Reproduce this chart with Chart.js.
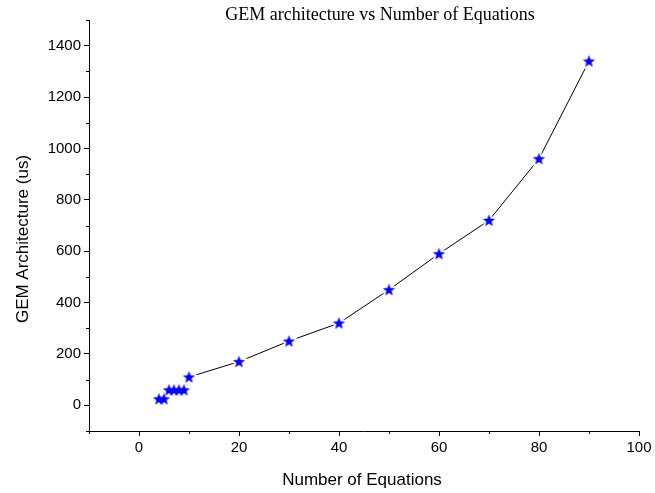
<!DOCTYPE html>
<html>
<head>
<meta charset="utf-8">
<script src="https://cdn.jsdelivr.net/npm/chart.js@4.4.1/dist/chart.umd.min.js"></script>
<style>
  html, body { margin: 0; padding: 0; background: #fff; }
  #wrap { width: 655px; height: 493px; }
</style>
</head>
<body>
<div id="wrap"><canvas id="gem"></canvas></div>
<script>
// equations count vs GEM time (us)
const equations = [4, 5, 6, 7, 8, 9, 10, 20, 30, 40, 50, 60, 70, 80, 90];
const gemTime = [25, 25, 60, 60, 60, 60, 110, 170, 250, 320, 450, 590, 720, 960, 1340];

const xTicks = [0, 20, 40, 60, 80, 100];
const yTicks = [0, 200, 400, 600, 800, 1000, 1200, 1400];

const chartTitle = "GEM architecture vs Number of Equations";
const xTitle = "Number of Equations";
const yTitle = "GEM Architecture (us)";

// filled 5 point star drawn into its own canvas
function makeStar(r, color, rim) {
    const pad = 3;
    const size = Math.ceil((r + pad) * 2);
    const c = document.createElement("canvas");
    c.width = size;
    c.height = size;
    const g = c.getContext("2d");
    const cx = size / 2, cy = size / 2 + 0.5;
    g.beginPath();
    for (let i = 0; i < 10; i++) {
        const rad = i % 2 === 0 ? r : r * 0.42;
        const a = -Math.PI / 2 + i * Math.PI / 5;
        const px = cx + rad * Math.cos(a);
        const py = cy + rad * Math.sin(a);
        if (i === 0) g.moveTo(px, py); else g.lineTo(px, py);
    }
    g.closePath();
    if (rim) {
        g.lineJoin = "round";
        g.strokeStyle = color;
        g.lineWidth = rim;
        g.stroke();
    }
    g.fillStyle = color;
    g.fill();
    return c;
}

const star = makeStar(6.5, "#0000ff", 0);
const halo = makeStar(6.5, "#ffffff", 4);

const points = equations.map((x, i) => ({ x: x, y: gemTime[i] }));

// minor ticks drawn between the labelled ones
const minorTicks = {
    id: "minorTicks",
    afterDraw(chart) {
        const ctx = chart.ctx;
        const xs = chart.scales.x, ys = chart.scales.y;
        const area = chart.chartArea;
        ctx.save();
        ctx.strokeStyle = "#000";
        ctx.lineWidth = 1;
        ctx.beginPath();
        for (let v = -10; v <= 100; v += 20) {
            const px = Math.round(xs.getPixelForValue(v)) + 0.5;
            ctx.moveTo(px, area.bottom);
            ctx.lineTo(px, area.bottom + 3);
        }
        for (let v = -100; v <= 1500; v += 200) {
            const py = Math.round(ys.getPixelForValue(v)) + 0.5;
            ctx.moveTo(area.left, py);
            ctx.lineTo(area.left - 3, py);
        }
        ctx.stroke();
        ctx.restore();
    }
};

// chart title and axis titles
const titles = {
    id: "titles",
    afterDraw(chart) {
        const ctx = chart.ctx;
        ctx.save();
        ctx.fillStyle = "#000";
        ctx.textAlign = "center";
        ctx.textBaseline = "middle";
        ctx.font = "18px 'Liberation Serif', 'Times New Roman', serif";
        ctx.fillText(chartTitle, 380, 15);
        ctx.font = "17px 'Liberation Sans', Arial, sans-serif";
        ctx.fillText(xTitle, 362, 480);
        ctx.translate(23, 239);
        ctx.rotate(-Math.PI / 2);
        ctx.fillText(yTitle, 0, 0);
        ctx.restore();
    }
};

const tickFont = { family: "'Liberation Sans', Arial, sans-serif", size: 15 };

new Chart(document.getElementById("gem"), {
    type: "scatter",
    data: {
        datasets: [
            {
                // connecting line
                data: points,
                showLine: true,
                borderColor: "#000",
                borderWidth: 1,
                pointRadius: 0,
                order: 3
            },
            {
                // white gap round each marker
                data: points,
                pointStyle: halo,
                pointRadius: 8,
                order: 2
            },
            {
                data: points,
                pointStyle: star,
                pointRadius: 7,
                backgroundColor: "#0000ff",
                order: 1
            }
        ]
    },
    options: {
        responsive: true,
        maintainAspectRatio: false,
        animation: false,
        events: [],
        layout: { padding: { top: 20, right: 16, left: 0, bottom: 0 } },
        plugins: {
            legend: { display: false },
            title: { display: false },
            tooltip: { enabled: false }
        },
        scales: {
            x: {
                type: "linear",
                min: -10,
                max: 100,
                afterBuildTicks: (scale) => { scale.ticks = xTicks.map(v => ({ value: v })); },
                afterFit: (scale) => { scale.height = 62; },
                ticks: { font: tickFont, color: "#000", padding: 3, maxRotation: 0, callback: (v) => String(v) },
                grid: { drawOnChartArea: false, color: "#000", tickLength: 5, tickColor: "#000" },
                border: { color: "#000", width: 1 }
            },
            y: {
                type: "linear",
                min: -100,
                max: 1500,
                afterBuildTicks: (scale) => { scale.ticks = yTicks.map(v => ({ value: v })); },
                afterFit: (scale) => { scale.width = 89; },
                ticks: { font: tickFont, color: "#000", padding: 3, callback: (v) => String(v) },
                grid: { drawOnChartArea: false, color: "#000", tickLength: 5, tickColor: "#000" },
                border: { color: "#000", width: 1 }
            }
        }
    },
    plugins: [minorTicks, titles]
});
</script>
</body>
</html>
